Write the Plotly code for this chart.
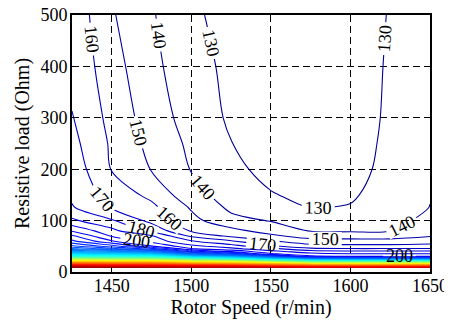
import plotly.graph_objects as go

# ---------------- data ----------------
rotor_speed = [1425, 1450, 1475, 1500, 1525, 1550, 1575, 1600, 1625, 1650]
resistive_load = [8, 12, 16, 20, 25, 30, 35, 40, 45, 50, 60, 70, 80,
                  100, 125, 150, 200, 250, 300, 400, 500]
# one row per resistive load value, one column per rotor speed
z_values = [
    [763, 755, 753, 745, 743, 735, 725, 723, 723, 723],            # 8
    [703, 695, 693, 683, 673, 655, 635, 625, 625, 625],            # 12
    [633, 625, 623, 603, 585, 563, 533, 523, 523, 523],            # 16
    [563, 555, 553, 523, 503, 463, 423, 413, 413, 413],            # 20
    [463, 455, 453, 423, 393, 343, 293, 283, 283, 283],            # 25
    [393, 385, 383, 333, 303, 253, 203, 201, 201, 201],            # 30
    [343, 335, 325, 265, 243, 202, 194, 191, 191, 191],            # 35
    [303, 293, 275, 225, 207, 193, 184, 182, 182, 182],            # 40
    [273, 255, 235, 201, 193, 183, 172.5, 171, 171, 171],          # 45
    [253, 235, 211, 193, 185, 172, 164, 163, 163, 164],            # 50
    [232, 211, 196, 181, 171, 161, 154, 154, 154, 155],            # 60
    [222, 199, 191, 168, 158, 152, 146, 145, 145, 149.5],          # 70
    [209, 193, 177.5, 159, 153, 146, 139.5, 139, 139.8, 147],      # 80
    [192, 181, 167, 153, 143, 139.5, 133.5, 135, 136.5, 143],      # 100
    [181, 169.5, 162.5, 149, 138, 134, 129.8, 130.5, 134.5, 140.2],  # 125
    [178, 166, 157.5, 143.5, 136, 130.5, 128, 129, 133.5, 139.5],  # 150
    [176, 159.5, 149.5, 139.5, 132, 127.5, 125.5, 127, 132.5, 139],  # 200
    [173, 158.5, 147, 138, 130.2, 126, 124.5, 126, 132, 138.5],    # 250
    [170.3, 157, 145, 136, 128.5, 125, 124, 125.5, 131.5, 138],    # 300
    [168, 154, 142.5, 134, 127.5, 124.5, 124, 125.5, 131, 137],    # 400
    [167, 151, 141, 131.5, 127, 124.5, 124, 125.5, 130.5, 136],    # 500
]
x_ticks = [1450, 1500, 1550, 1600, 1650]
y_ticks = [0, 100, 200, 300, 400, 500]

# ---------------- styling helpers ----------------
ZMIN, ZMAX = 130, 770
JET = [(0.0, (0, 0, 143)), (0.125, (0, 0, 255)), (0.375, (0, 255, 255)),
       (0.625, (255, 255, 0)), (0.875, (255, 0, 0)), (1.0, (128, 0, 0))]


def jet(f):
    f = min(max(f, 0.0), 1.0)
    for (f0, c0), (f1, c1) in zip(JET[:-1], JET[1:]):
        if f <= f1:
            t = 0 if f1 == f0 else (f - f0) / (f1 - f0)
            c = [round(a + (b - a) * t) for a, b in zip(c0, c1)]
            return "rgb(%d,%d,%d)" % tuple(c)
    return "rgb(128,0,0)"


def scale_over(z0, z1):
    return [[i / 40, jet((z0 + i / 40 * (z1 - z0) - ZMIN) / (ZMAX - ZMIN))]
            for i in range(41)]


FONT = "Liberation Serif, Times New Roman, DejaVu Serif, serif"
LABELFONT = dict(family=FONT, size=18, color="black")
LINE_W = 1.1


def contour(start, end, size, labels):
    return go.Contour(
        x=rotor_speed, y=resistive_load, z=z_values,
        autocontour=False,
        contours=dict(start=start, end=end, size=size, coloring="lines",
                      showlabels=labels, labelfont=LABELFONT,
                      labelformat=".0f"),
        colorscale=scale_over(start, end),
        line=dict(width=LINE_W),
        showscale=False, hoverinfo="skip",
    )


fig = go.Figure()
# dense unlabeled band
fig.add_trace(contour(210, 760, 10, False))
fig.add_trace(contour(190, 190, 10, False))
# labeled levels 130..180 (empty levels below the data keep label spacing tight)
fig.add_trace(contour(-470, 180, 10, True))
# labeled level 200 (the other levels of this trace lie above the data)
c200 = jet((200 - ZMIN) / (ZMAX - ZMIN))
fig.add_trace(go.Contour(
    x=rotor_speed, y=resistive_load, z=z_values,
    autocontour=False,
    contours=dict(start=200, end=200 + 600 * 60, size=600, coloring="lines",
                  showlabels=True, labelfont=LABELFONT, labelformat=".0f"),
    colorscale=[[0, c200], [1, c200]],
    line=dict(width=LINE_W), showscale=False, hoverinfo="skip",
))

axis_common = dict(
    showline=True, mirror=True, linecolor="black", linewidth=2,
    showgrid=True, gridcolor="black", gridwidth=1, griddash="7px,4px",
    ticks="inside", ticklen=5, tickcolor="black", zeroline=False,
    automargin=False, ticklabeloverflow="allow",
    tickfont=dict(family=FONT, size=18, color="black"),
)
fig.update_xaxes(range=[1425, 1650], tickvals=x_ticks, ticklabelstandoff=-4,
                 title=dict(text="Rotor Speed (r/min)", standoff=3,
                            font=dict(family=FONT, size=20, color="black")),
                 **axis_common)
fig.update_yaxes(range=[0, 500], tickvals=y_ticks, ticklabelstandoff=-1,
                 title=dict(text="Resistive load (Ohm)", standoff=5,
                            font=dict(family=FONT, size=20, color="black")),
                 **axis_common)
# the page places the figure 8 px in from the top-left corner
fig.update_layout(
    template="none",
    width=444, height=313,
    margin=dict(l=64, r=22, t=7, b=49),
    plot_bgcolor="white", paper_bgcolor="white",
    font=dict(family=FONT, color="black"),
    showlegend=False,
)
fig.write_html("out.html")
